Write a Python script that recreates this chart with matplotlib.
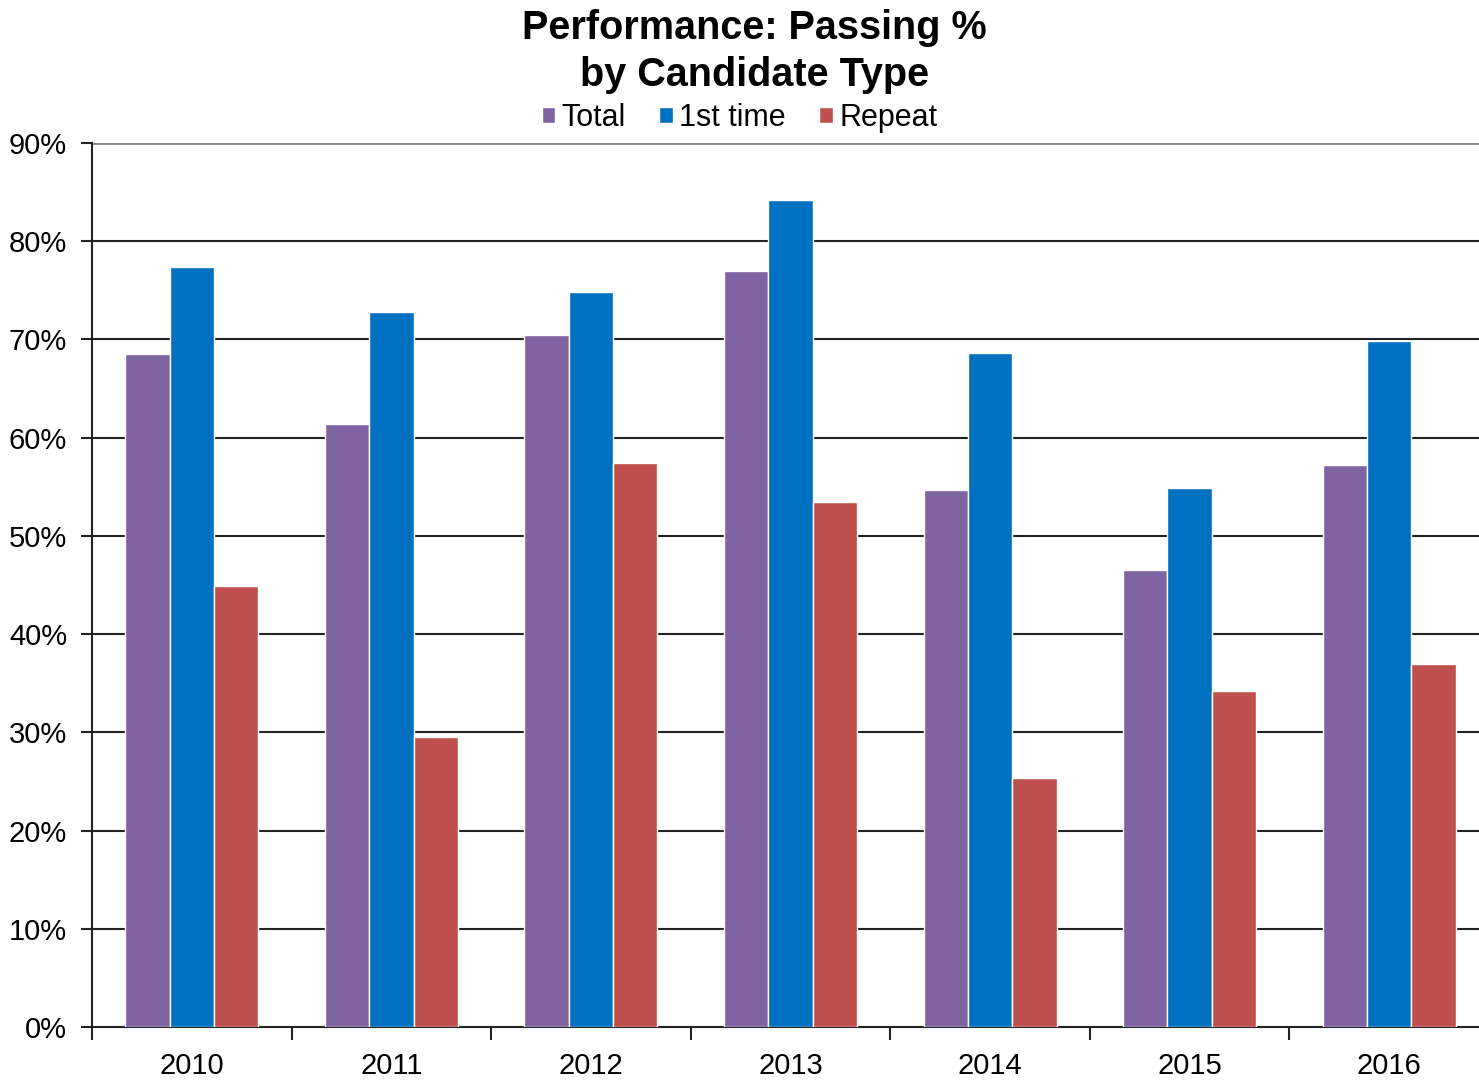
import numpy as np
import matplotlib.pyplot as plt
from matplotlib.ticker import FixedLocator, PercentFormatter

plt.rcParams['font.family'] = ['Liberation Sans', 'DejaVu Sans']

years = ['2010', '2011', '2012', '2013', '2014', '2015', '2016']
total = [68.5, 61.4, 70.5, 77.0, 54.7, 46.5, 57.2]
first_time = [77.4, 72.8, 74.8, 84.2, 68.6, 54.9, 69.8]
repeat = [44.9, 29.5, 57.4, 53.5, 25.4, 34.2, 37.0]

c_total = '#8064a2'
c_first = '#0070c0'
c_repeat = '#c0504d'

fig = plt.figure(figsize=(14.79, 10.83), dpi=100)
ax = fig.add_axes([92 / 1479, 56 / 1083, 1397 / 1479, 884 / 1083])

x = np.arange(len(years))
w = 0.222
ax.bar(x - w, total, w, color=c_total, edgecolor='white', linewidth=1, label='Total', zorder=3)
ax.bar(x, first_time, w, color=c_first, edgecolor='white', linewidth=1, label='1st time', zorder=3)
ax.bar(x + w, repeat, w, color=c_repeat, edgecolor='white', linewidth=1, label='Repeat', zorder=3)

ax.set_xlim(-0.5, len(years) - 0.5)
ax.set_ylim(0, 90)
ax.set_yticks(np.arange(0, 91, 10))
ax.yaxis.set_major_formatter(PercentFormatter(decimals=0))
ax.set_xticks(x)
ax.set_xticklabels(years)
ax.xaxis.set_minor_locator(FixedLocator(np.arange(-0.5, len(years), 1)))
ax.tick_params(axis='x', which='major', length=0, labelsize=21, pad=18)
ax.tick_params(axis='x', which='minor', length=9, width=1.5, color='#222222')
ax.tick_params(axis='y', length=8, width=1.5, labelsize=21, pad=10, color='#222222')

for v in np.arange(10, 81, 10):
    ax.axhline(v, color='#222222', linewidth=1.5, zorder=1)
ax.axhline(90, color='#888888', linewidth=2, zorder=1)

for s in ['top', 'right']:
    ax.spines[s].set_visible(False)
ax.spines['left'].set_linewidth(1.5)
ax.spines['bottom'].set_linewidth(1.5)
ax.spines['left'].set_color('#222222')
ax.spines['bottom'].set_color('#222222')

fig.text(0.51, 0.992, 'Performance: Passing %\nby Candidate Type', ha='center', va='top',
         fontsize=28.5, fontweight='bold', linespacing=1.3)

leg = fig.legend(loc='center', bbox_to_anchor=(0.5, 1 - 118 / 1083), ncol=3, frameon=False,
                 fontsize=22, handlelength=0.45, handleheight=0.45, handletextpad=0.2,
                 columnspacing=1.1, borderpad=0)

fig.savefig('out.png', dpi=100)
